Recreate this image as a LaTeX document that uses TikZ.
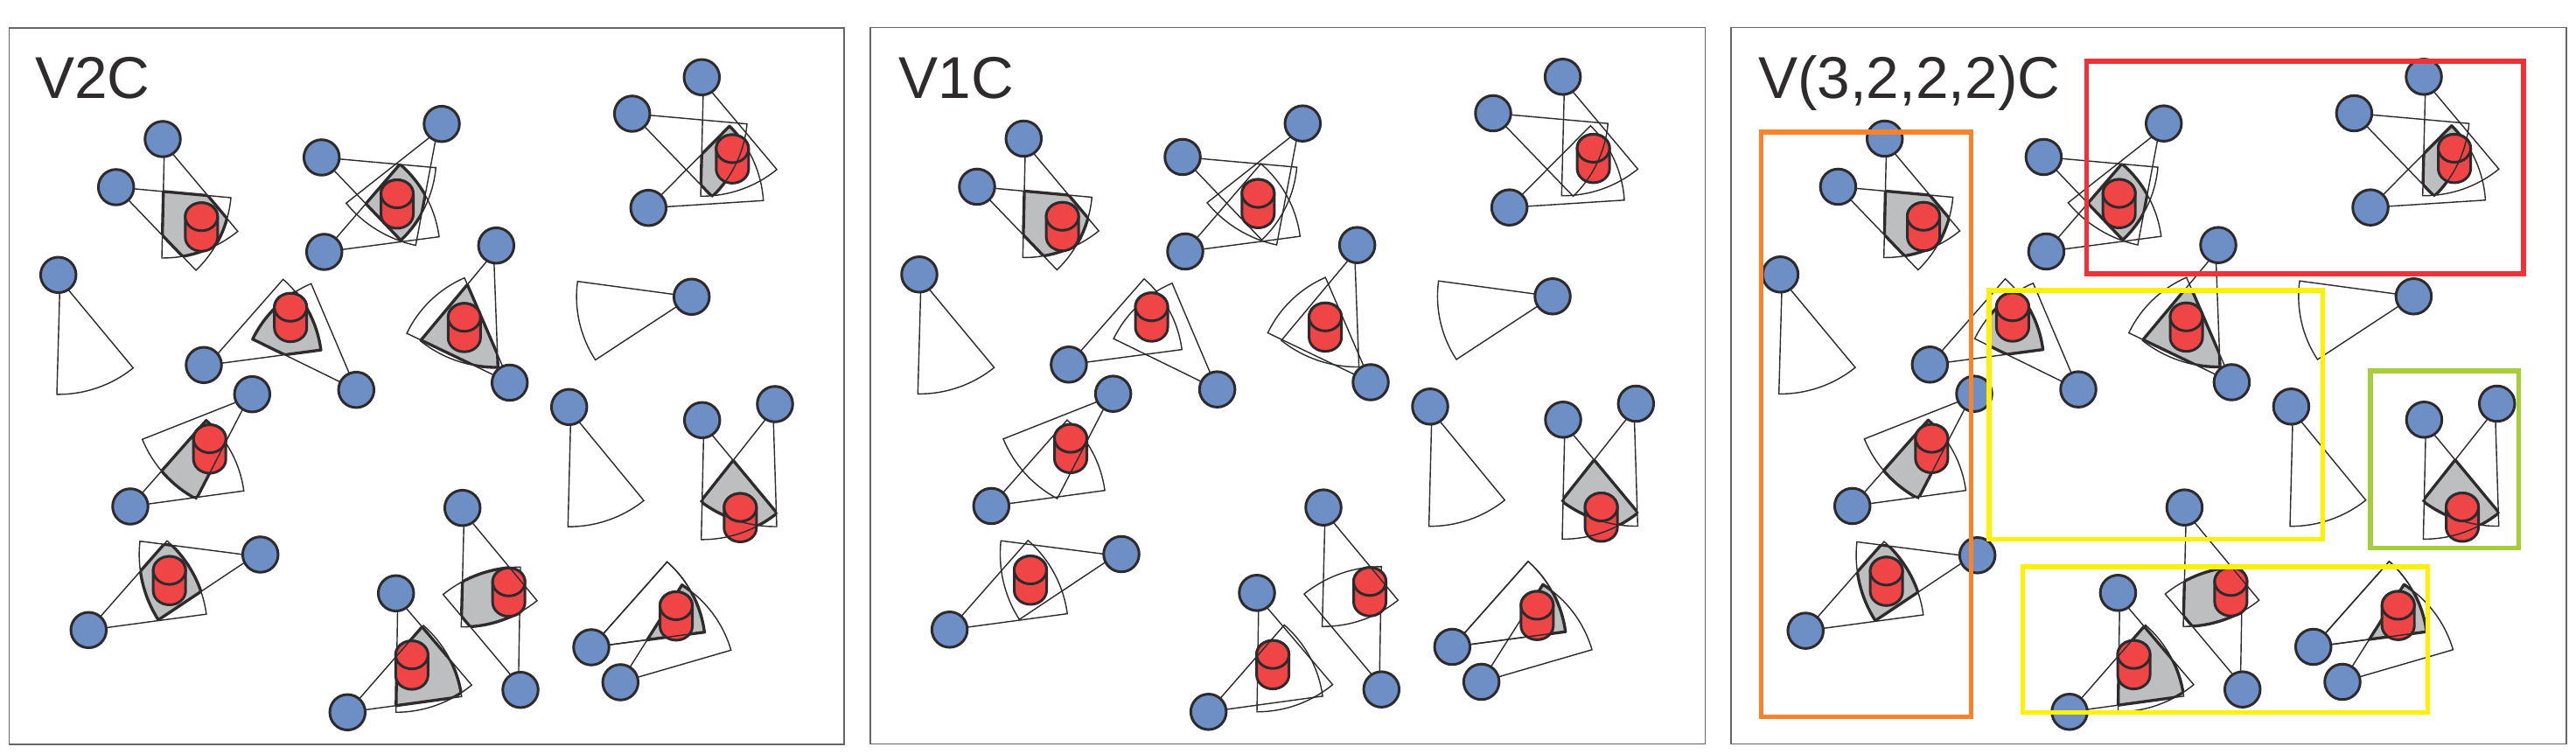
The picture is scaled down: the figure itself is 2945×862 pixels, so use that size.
\documentclass[tikz,border=0pt]{standalone}
\usepackage{fontspec}
\setmainfont{Liberation Sans}
\definecolor{ink}{HTML}{2F2B2D}
\definecolor{bluefill}{HTML}{6E8EC6}
\definecolor{redfill}{HTML}{F04546}
\definecolor{grayfill}{HTML}{BCBEC0}
\definecolor{framecol}{HTML}{666666}
\definecolor{boxorange}{HTML}{F6842C}
\definecolor{boxred}{HTML}{EE3338}
\definecolor{boxyellow}{HTML}{FFF200}
\definecolor{boxgreen}{HTML}{A6CE39}
\tikzset{
  thinline/.style={draw=ink,line width=0.4pt,line join=miter},
  thickline/.style={draw=ink,line width=0.95pt,line join=round},
  bluedot/.style={circle,draw=ink,fill=bluefill,line width=0.85pt,minimum size=0.405cm,inner sep=0pt,outer sep=0pt},
  cylbody/.style={draw=ink,fill=redfill,line width=0.85pt,line join=round},
  panelframe/.style={draw=framecol,line width=0.45pt},
  groupbox/.style={line width=1.55pt,line join=miter},
  paneltitle/.style={anchor=base west,inner sep=0pt,text=ink,font=\fontsize{19.2}{23}\selectfont}
}
% #1 name, #2 #3 node centre, #4 #5 first corner, #6 #7 second corner, #8 apex offset along the axis
\newcommand\defsec[8]{%
  \pgfmathsetmacro\sA{atan2(-(#5-#3),#4-#2)}%
  \pgfmathsetmacro\sB{atan2(-(#7-#3),#6-#2)}%
  \pgfmathsetmacro\sB{(\sB-\sA>180)?(\sB-360):((\sB-\sA<-180)?(\sB+360):\sB)}%
  \pgfmathsetmacro\sR{veclen(#4-#2,#5-#3)*0.01}%
  \pgfmathsetmacro\sMx{(#4+#6)/2-#2}%
  \pgfmathsetmacro\sMy{(#5+#7)/2-#3}%
  \pgfmathsetmacro\sD{veclen(\sMx,\sMy)}%
  \pgfmathsetmacro\sX{#2+#8*\sMx/\sD}%
  \pgfmathsetmacro\sY{#3+#8*\sMy/\sD}%
  \expandafter\xdef\csname sct#1\endcsname{(\sX,\sY) -- (#4,#5) arc[start angle=\sA,end angle=\sB,radius=\sR cm] -- cycle}%
}
\newcommand\Sct[1]{\draw[thinline] #1;}
\newcommand\GrayB[3]{\begin{scope}#3
  \begin{scope}\clip #1;\clip #2;\fill[grayfill] (-100,-100) rectangle (1100,1000);\end{scope}
  \begin{scope}\clip #1;\draw[thickline] #2;\end{scope}
  \begin{scope}\clip #2;\draw[thickline] #1;\end{scope}
\end{scope}}
\newcommand\GrayC[4]{\begin{scope}#4
  \begin{scope}\clip #1;\clip #2;\clip #3;\fill[grayfill] (-100,-100) rectangle (1100,1000);\end{scope}
  \begin{scope}\clip #1;\clip #2;\draw[thickline] #3;\end{scope}
  \begin{scope}\clip #1;\clip #3;\draw[thickline] #2;\end{scope}
  \begin{scope}\clip #2;\clip #3;\draw[thickline] #1;\end{scope}
\end{scope}}
\newcommand\Cyl[2]{%
  \draw[cylbody] (#1-18.5,#2-11.7) -- (#1-18.5,#2+11.7)
     arc[start angle=180,end angle=360,x radius=0.185cm,y radius=0.16cm]
     -- (#1+18.5,#2-11.7)
     arc[start angle=0,end angle=180,x radius=0.185cm,y radius=0.16cm] -- cycle;
  \draw[cylbody] (#1+18.5,#2-11.7)
     arc[start angle=0,end angle=360,x radius=0.185cm,y radius=0.16cm];
}
\newcommand\Blue[3]{\node[bluedot] (\pfx#1) at (#2,#3) {};}
\newcommand\YelA{\clip (305.3,332) rectangle (687,616.7);}
\newcommand\YelB{\clip (343.6,648) rectangle (807,814.7);}
\newcommand\Panel[2]{%
  \def\pmode{#1}\def\pfx{#2}%
  \ifnum\pmode=1 \def\nsix{233}\else \def\nsix{237.6}\fi
  \ifnum\pmode=3 \def\eshift{-5.8,1.3}\else \def\eshift{0,0}\fi
  \draw[panelframe] (10.5,32) rectangle (965,851);
  % single sectors
  \Sct\sctsa \Sct\sctsb \Sct\sctsc
  % A
  \Sct\sctaa \Sct\sctab
  \GrayB\sctaa\sctab{}
  \Cyl{230.3}{259.5}
  % B
  \Sct\sctba \Sct\sctbb \Sct\sctbc
  \ifnum\pmode=2 \else \GrayC\sctba\sctbb\sctbc{}\fi
  \Cyl{454}{233.3}
  % C
  \Sct\sctca \Sct\sctcb
  \ifnum\pmode=1 \GrayB\sctca\sctcb{}\fi
  \ifnum\pmode=3 \GrayB\sctca\sctcb{\YelA}\fi
  \Cyl{332.2}{363}
  % D
  \Sct\sctdb
  \ifnum\pmode=2 \else \GrayB\sctda\sctdb{}\fi
  \Cyl{239.7}{513.3}
  \Sct\sctda
  % E
  \begin{scope}[shift={(\eshift)}]
    \Sct\sctea \Sct\scteb
    \ifnum\pmode=2 \else \GrayB\sctea\scteb{}\fi
    \Cyl{193.7}{663.8}
  \end{scope}
  % F
  \Sct\sctfa
  \ifnum\pmode=1 \GrayB\sctfa\sctfb{}\fi
  \ifnum\pmode=3 \GrayB\sctfa\sctfb{\YelB}\fi
  \Cyl{470.8}{760.4}
  \Sct\sctfb
  % G
  \Sct\sctgb
  \ifnum\pmode=1 \GrayB\sctga\sctgb{}\fi
  \ifnum\pmode=3 \GrayB\sctga\sctgb{\YelB}\fi
  \Cyl{581.7}{677}
  \Sct\sctga
  % H
  \Sct\sctha \Sct\scthb
  \ifnum\pmode=1 \GrayB\sctha\scthb{}\fi
  \ifnum\pmode=2 \GrayB\sctha\scthb{\clip (773,600) rectangle (900,800);}\fi
  \ifnum\pmode=3 \GrayB\sctha\scthb{\YelB}\fi
  \Cyl{773}{704.2}
  \Sct\sctha
  % I
  \GrayB\sctia\sctib{}
  \Cyl{846.3}{591.8}
  \Sct\sctia \Sct\sctib
  % J
  \Sct\sctja \Sct\sctjc
  \ifnum\pmode=2 \else \GrayC\sctja\sctjb\sctjc{}\fi
  \Cyl{837.3}{181.7}
  \Sct\sctjb
  % K
  \Sct\sctka \Sct\sctkb
  \ifnum\pmode=1 \GrayB\sctka\sctkb{}\fi
  \ifnum\pmode=3 \GrayB\sctka\sctkb{\YelA}\fi
  \Cyl{530.8}{374.5}
  % nodes
  \Blue{n1}{186}{159} \Blue{n2}{132.7}{214} \Blue{n3}{367.7}{180}
  \Blue{n4}{370.7}{288} \Blue{n5}{505}{141.7} \Blue{n6}{\nsix}{417.3}
  \Blue{n7}{407.3}{445.7} \Blue{n8}{66.7}{314.3} \Blue{n9}{288.3}{450.7}
  \Blue{n10}{149}{579}
  \begin{scope}[shift={(\eshift)}]
    \Blue{n11}{297.7}{634} \Blue{n12}{101.3}{720.3}
  \end{scope}
  \Blue{n13}{452.7}{678.3} \Blue{n14}{397.3}{814.3} \Blue{n15}{528.7}{580.7}
  \Blue{n16}{595}{788.7} \Blue{n17}{676}{740} \Blue{n18}{709.3}{780}
  \Blue{n19}{802.7}{480.3} \Blue{n20}{886}{462} \Blue{n21}{650.7}{465.3}
  \Blue{n22}{790.7}{339.3} \Blue{n23}{802.3}{88.3} \Blue{n24}{722.7}{130}
  \Blue{n25}{741.3}{237.7} \Blue{n26}{567.3}{280.7} \Blue{n27}{582.7}{437.5}
}
\begin{document}
\begin{tikzpicture}[x=0.01cm,y=-0.01cm]
  \useasboundingbox (0,0) rectangle (2945,862);
  \fill[white] (0,0) rectangle (2945,862);
  \defsec{sa}{66.7}{314.3}{152.3}{420.7}{65}{450.7}{6}
  \defsec{sb}{650.7}{465.3}{736}{572.3}{649.3}{602.3}{6}
  \defsec{sc}{790.7}{339.3}{660.3}{321.7}{681}{411.3}{0}
  \defsec{aa}{186}{159}{185}{295}{271.7}{264.3}{6}
  \defsec{ab}{132.7}{214}{264}{226}{224.3}{309.3}{0}
  \defsec{ba}{367.7}{180}{498.3}{191.7}{460}{276.7}{0}
  \defsec{bb}{370.7}{288}{502}{270.7}{456.7}{188.3}{0}
  \defsec{bc}{505}{141.7}{395.7}{232.3}{475}{281.7}{10}
  \defsec{ca}{237.6}{417.3}{323.7}{319.3}{368.3}{400}{0}
  \defsec{cb}{407.3}{445.7}{355.7}{324.3}{290}{388.3}{0}
  \defsec{da}{288.3}{450.7}{162.7}{502.3}{224.3}{570.7}{5}
  \defsec{db}{149}{579}{235.7}{480.7}{280}{561.3}{0}
  \defsec{ea}{297.7}{634}{160}{618.7}{181.7}{708.3}{7}
  \defsec{eb}{101.3}{720.3}{191}{618.3}{237}{702}{0}
  \defsec{fa}{452.7}{678.3}{452.7}{814.3}{539.3}{783.3}{6}
  \defsec{fb}{397.3}{814.3}{484}{715}{527.7}{796.7}{0}
  \defsec{ga}{528.7}{580.7}{614}{686.7}{527.3}{717.3}{6}
  \defsec{gb}{595}{788.7}{595}{648.3}{508.3}{681.7}{7}
  \defsec{ha}{676}{740}{762.7}{642.3}{806.7}{722.7}{0}
  \defsec{hb}{709.3}{780}{835.7}{743.3}{779.3}{669.3}{0}
  \defsec{ia}{802.7}{480.3}{888.3}{586.7}{801.7}{616.7}{6}
  \defsec{ib}{886}{462}{888}{602}{801.7}{572.3}{7}
  \defsec{ja}{802.3}{88.3}{801}{224.3}{887.7}{193.3}{6}
  \defsec{jb}{722.7}{130}{854}{141.7}{814.3}{225}{0}
  \defsec{jc}{741.3}{237.7}{872.7}{229.3}{834}{144.3}{0}
  \defsec{ka}{567.3}{280.7}{569.3}{420}{481.7}{388.3}{9}
  \defsec{kb}{582.7}{437.5}{531}{317.7}{464.3}{380.7}{0}
  \begin{scope}
    \Panel{1}{pa}
  \end{scope}
  \begin{scope}[shift={(984.3,-0.5)}]
    \Panel{2}{pb}
  \end{scope}
  \begin{scope}[shift={(1968.7,-0.5)}]
    \Panel{3}{pc}
  \end{scope}
  \node[paneltitle] (titlea) at (39.5,113) {V2C};
  \node[paneltitle] (titleb) at (1027,113) {V1C};
  \node[paneltitle] (titlec) at (2009.3,113) {V(3,2,2,2)C};
  \draw[groupbox,draw=boxorange] (2013.3,151) rectangle (2253.3,819.5);
  \draw[groupbox,draw=boxred] (2385.3,70) rectangle (2885,313);
  \draw[groupbox,draw=boxyellow] (2274,332) rectangle (2655.7,616.7);
  \draw[groupbox,draw=boxyellow] (2312.3,648) rectangle (2775.7,814.7);
  \draw[groupbox,draw=boxgreen] (2710,424) rectangle (2879.7,626.7);
\end{tikzpicture}
\end{document}
